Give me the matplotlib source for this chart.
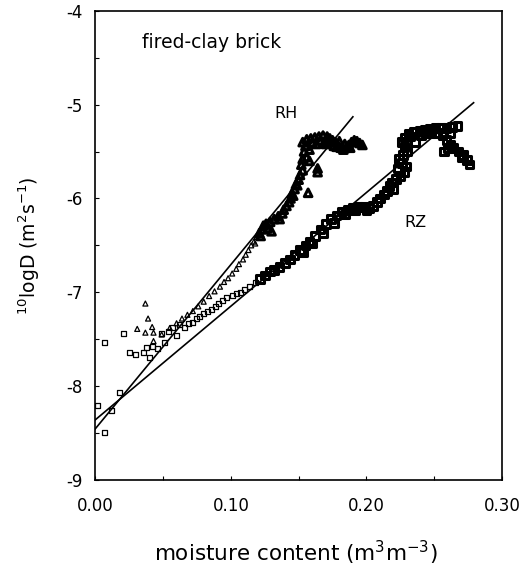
import matplotlib
matplotlib.use("Agg")
from matplotlib import pyplot as plt

# RH series (triangles), moisture content vs 10logD
rh_w = [0.037, 0.039, 0.031, 0.037, 0.042, 0.043, 0.043, 0.049,
        0.055, 0.060, 0.064, 0.068, 0.072, 0.076, 0.080, 0.084, 0.088, 0.092,
        0.095, 0.098, 0.101, 0.104, 0.106, 0.109, 0.111, 0.113, 0.115, 0.117,
        0.119, 0.121, 0.123, 0.124, 0.126, 0.129, 0.132, 0.135, 0.138, 0.139,
        0.141, 0.143, 0.144, 0.145, 0.147, 0.148, 0.150, 0.151, 0.153, 0.152,
        0.153, 0.156, 0.158, 0.164, 0.164, 0.154, 0.155, 0.153, 0.156, 0.159,
        0.162, 0.165, 0.168, 0.171, 0.173, 0.175, 0.177, 0.179, 0.181, 0.183,
        0.185, 0.187, 0.189, 0.191, 0.193, 0.195, 0.197, 0.160, 0.166, 0.172,
        0.180, 0.157, 0.127, 0.130, 0.118, 0.122, 0.136, 0.146, 0.149, 0.158,
        0.163, 0.169, 0.176, 0.184, 0.188, 0.178, 0.170]
rh_logd = [-7.12, -7.28, -7.39, -7.43, -7.37, -7.43, -7.52, -7.45,
           -7.38, -7.33, -7.28, -7.24, -7.20, -7.15, -7.10, -7.04, -6.99, -6.94,
           -6.89, -6.85, -6.80, -6.75, -6.70, -6.65, -6.60, -6.55, -6.50, -6.46,
           -6.41, -6.37, -6.33, -6.29, -6.27, -6.25, -6.22, -6.19, -6.16, -6.12,
           -6.08, -6.04, -6.00, -5.95, -5.90, -5.85, -5.80, -5.75, -5.70, -5.64,
           -5.58, -5.56, -5.60, -5.68, -5.72, -5.50, -5.44, -5.40, -5.37, -5.36,
           -5.35, -5.34, -5.33, -5.34, -5.36, -5.38, -5.40, -5.43, -5.46, -5.48,
           -5.46, -5.43, -5.40, -5.38, -5.39, -5.41, -5.43, -5.40, -5.38, -5.39,
           -5.39, -5.94, -6.32, -6.35, -6.48, -6.40, -6.22, -5.97, -5.86, -5.48,
           -5.42, -5.40, -5.44, -5.42, -5.46, -5.45, -5.42]

# RZ series (squares)
rz_w = [0.0015, 0.0066, 0.0118, 0.018, 0.0066, 0.0206, 0.025, 0.030, 0.0354,
        0.038, 0.042, 0.040, 0.0457, 0.049, 0.051,
        0.054, 0.057, 0.060, 0.062, 0.066, 0.069, 0.072, 0.075, 0.077, 0.080,
        0.083, 0.086, 0.0885, 0.091, 0.094, 0.097, 0.101, 0.104, 0.107, 0.110,
        0.114, 0.118, 0.1216, 0.125, 0.129, 0.132, 0.136, 0.140, 0.1437, 0.147,
        0.151, 0.155, 0.158, 0.162, 0.166, 0.170, 0.174, 0.178, 0.182, 0.186,
        0.190, 0.194, 0.198, 0.202, 0.205, 0.208, 0.210, 0.213, 0.215, 0.217,
        0.219, 0.222, 0.225, 0.228, 0.229, 0.226, 0.224, 0.227, 0.230, 0.228,
        0.226, 0.228, 0.231, 0.235, 0.239, 0.243, 0.247, 0.251, 0.255, 0.259,
        0.263, 0.267, 0.256, 0.259, 0.262, 0.264, 0.268, 0.271, 0.274, 0.276,
        0.257, 0.260, 0.240, 0.236, 0.248, 0.153, 0.160, 0.168, 0.176, 0.184,
        0.192, 0.200, 0.220, 0.223, 0.232, 0.244, 0.252, 0.262, 0.270]
rz_logd = [-8.21, -8.49, -8.26, -8.07, -7.53, -7.44, -7.64, -7.66, -7.64,
           -7.59, -7.58, -7.69, -7.60, -7.44, -7.53,
           -7.42, -7.37, -7.46, -7.34, -7.38, -7.33, -7.32, -7.28, -7.26, -7.23,
           -7.21, -7.18, -7.15, -7.12, -7.09, -7.06, -7.03, -7.01, -7.00, -6.97,
           -6.94, -6.90, -6.86, -6.82, -6.78, -6.76, -6.73, -6.69, -6.65, -6.60,
           -6.55, -6.50, -6.46, -6.40, -6.33, -6.27, -6.22, -6.18, -6.14, -6.12,
           -6.10, -6.09, -6.09, -6.10, -6.08, -6.04, -6.00, -5.96, -5.92, -5.87,
           -5.83, -5.79, -5.76, -5.72, -5.66, -5.62, -5.58, -5.54, -5.50, -5.45,
           -5.40, -5.35, -5.31, -5.29, -5.28, -5.27, -5.26, -5.25, -5.25, -5.25,
           -5.24, -5.23, -5.33, -5.38, -5.43, -5.46, -5.50, -5.54, -5.59, -5.64,
           -5.50, -5.46, -5.33, -5.40, -5.30, -6.57, -6.48, -6.37, -6.26, -6.17,
           -6.13, -6.13, -5.90, -5.68, -5.34, -5.31, -5.30, -5.30, -5.56]

# fitted straight lines (end points)
rh_fit_w = [0.0, 0.190]
rh_fit_logd = [-8.456, -5.13]
rz_fit_w = [0.0, 0.279]
rz_fit_logd = [-8.36, -4.98]

plt.rcParams['font.family'] = 'DejaVu Sans'
plt.rcParams['axes.unicode_minus'] = False
plt.rcParams['mathtext.fontset'] = 'dejavusans'

fig = plt.figure(figsize=(5.23, 5.66), dpi=100)
ax = fig.add_axes([0.182, 0.152, 0.778, 0.829])

ax.plot(rh_fit_w, rh_fit_logd, color='black', linewidth=1.2)
ax.plot(rz_fit_w, rz_fit_logd, color='black', linewidth=1.2)

# wetter points overlap heavily in the original and print as dark blobs
for w, d, m in [(rz_w, rz_logd, 's'), (rh_w, rh_logd, '^')]:
    lo_w = [x for x in w if x < 0.12]
    lo_d = [y for x, y in zip(w, d) if x < 0.12]
    hi_w = [x for x in w if x >= 0.12]
    hi_d = [y for x, y in zip(w, d) if x >= 0.12]
    ax.scatter(lo_w, lo_d, marker=m, s=13, facecolors='none',
               edgecolors='black', linewidths=0.9)
    ax.scatter(hi_w, hi_d, marker=m, s=30, facecolors='none',
               edgecolors='black', linewidths=2.2)

ax.text(0.0346, -4.34, "fired-clay brick", fontsize=13.5, va='center')
ax.text(0.1408, -5.10, "RH", fontsize=11.5, ha='center', va='center')
ax.text(0.2358, -6.26, "RZ", fontsize=11.5, ha='center', va='center')

ax.set_xlim(0, 0.30)
ax.set_ylim(-9, -4)
ax.set_xticks([0.0, 0.1, 0.2, 0.3])
ax.set_xticklabels(["0.00", "0.10", "0.20", "0.30"])
ax.set_xticks([0.05, 0.15, 0.25], minor=True)
ax.set_yticks([-9, -8, -7, -6, -5, -4])
ax.set_yticks([-8.5, -7.5, -6.5, -5.5, -4.5], minor=True)
ax.tick_params(which='both', direction='in', length=3, width=0.8,
               top=False, right=False)
ax.tick_params(axis='x', which='major', pad=12, labelsize=12)
ax.tick_params(axis='y', which='major', pad=9, labelsize=12)
for s in ax.spines.values():
    s.set_linewidth(1.2)

ax.set_xlabel("moisture content (m$^3$m$^{-3}$)", fontsize=15.5)
ax.xaxis.label.set_verticalalignment('center')
ax.xaxis.set_label_coords(0.4926, -0.156)
ax.set_ylabel("$^{10}$logD (m$^2$s$^{-1}$)", fontsize=13.5)
ax.yaxis.label.set_verticalalignment('center')
ax.yaxis.set_label_coords(-0.162, 0.5)

fig.savefig("out.png", dpi=100)
